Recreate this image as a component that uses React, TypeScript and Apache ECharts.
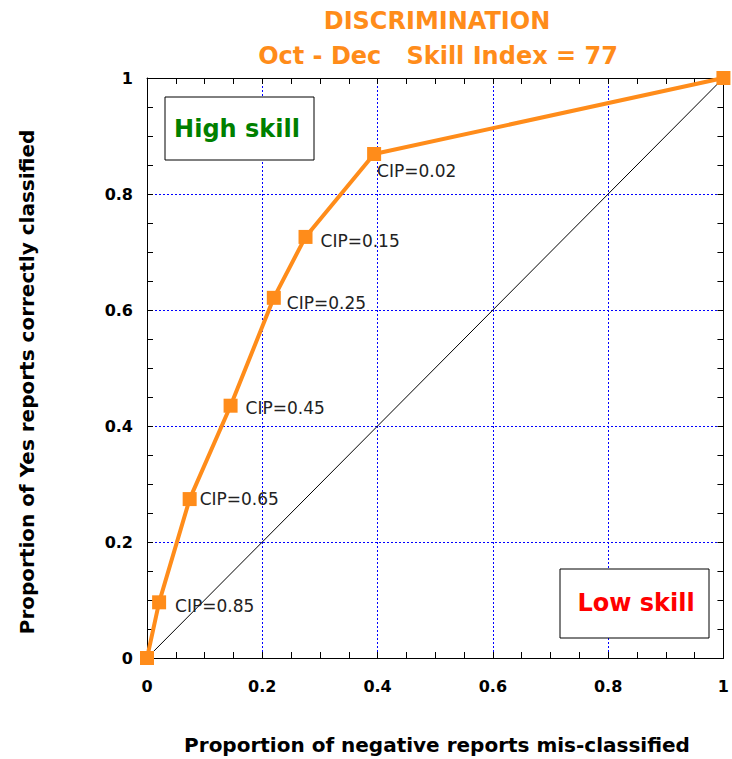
import React, { useEffect, useRef } from "react";
import * as echarts from "echarts";

// Data
const falseAlarmRate = [0, 0.021, 0.074, 0.145, 0.22, 0.275, 0.394, 1];
const hitRate = [0, 0.096, 0.274, 0.435, 0.621, 0.726, 0.869, 1];
const cipLabels = ["", "CIP=0.85", "CIP=0.65", "CIP=0.45", "CIP=0.25", "CIP=0.15", "CIP=0.02", ""];
const labelOffsets: [number, number][] = [[0, 0], [4, 4], [-2, 0], [3, 2], [1, 5], [3, 4], [-9, 17], [0, 0]];
const diagonalX = [0, 1];
const diagonalY = [0, 1];
const axisTicks = [0, 0.2, 0.4, 0.6, 0.8, 1];

const titleLine1 = "DISCRIMINATION";
const titleLine2 = "Oct - Dec   Skill Index = 77";
const xAxisTitle = "Proportion of negative reports mis-classified";
const yAxisTitle = "Proportion of Yes reports correctly classified";

const ORANGE = "#FF8C1A";
const FONT = "'DejaVu Sans', Verdana, sans-serif";

export default function App() {
  const ref = useRef<HTMLDivElement>(null);

  useEffect(() => {
    document.body.style.margin = "0";
    document.body.style.overflow = "hidden";
    if (!ref.current) return;
    const chart = echarts.init(ref.current, null, { renderer: "svg" });

    const baseAxis = {
      type: "value" as const,
      min: axisTicks[0],
      max: axisTicks[axisTicks.length - 1],
      interval: 0.2,
      axisLine: { show: true, onZero: false, lineStyle: { color: "#000", width: 1 } },
      axisTick: { show: true, inside: true, length: 6, lineStyle: { color: "#000" } },
      minorTick: { show: true, splitNumber: 4, length: 6, lineStyle: { color: "#000" } },
    };

    const gridLineStyle = { color: "#0000FF", type: [2, 2], width: 1, opacity: 1 };

    const mainData = falseAlarmRate.map((x, i) => ({
      value: [x, hitRate[i]],
      label: {
        show: cipLabels[i] !== "",
        formatter: cipLabels[i],
        offset: labelOffsets[i],
      },
    }));

    chart.setOption({
      animation: false,
      backgroundColor: "#fff",
      grid: { left: 147, top: 78, right: 5, bottom: 101 },
      xAxis: [
        {
          ...baseAxis,
          position: "bottom",
          axisLabel: { show: true, margin: 20, color: "#000", fontFamily: FONT, fontWeight: "bold", fontSize: 16 },
          splitLine: { show: true, lineStyle: gridLineStyle },
        },
        {
          ...baseAxis,
          position: "top",
          axisLabel: { show: false },
          splitLine: { show: false },
        },
      ],
      yAxis: [
        {
          ...baseAxis,
          position: "left",
          axisLabel: { show: true, margin: 14, color: "#000", fontFamily: FONT, fontWeight: "bold", fontSize: 16 },
          splitLine: { show: true, lineStyle: gridLineStyle },
        },
        {
          ...baseAxis,
          position: "right",
          axisLabel: { show: false },
          splitLine: { show: false },
        },
      ],
      series: [
        {
          type: "line",
          xAxisIndex: 0,
          yAxisIndex: 0,
          data: diagonalX.map((x, i) => [x, diagonalY[i]]),
          symbol: "none",
          lineStyle: { color: "#000", width: 1 },
          silent: true,
          z: 2,
        },
        {
          type: "line",
          xAxisIndex: 0,
          yAxisIndex: 0,
          data: mainData,
          symbol: "rect",
          symbolSize: 14,
          itemStyle: { color: ORANGE },
          lineStyle: { color: ORANGE, width: 4 },
          label: {
            position: "right",
            distance: 5,
            color: "#222",
            fontFamily: FONT,
            fontSize: 17,
          },
          z: 3,
        },
      ],
      graphic: [
        {
          type: "text",
          x: 437,
          y: 21,
          style: {
            text: titleLine1,
            fill: ORANGE,
            font: `bold 24px ${FONT}`,
            textAlign: "center",
            textVerticalAlign: "middle",
          },
        },
        {
          type: "text",
          x: 438,
          y: 56,
          style: {
            text: titleLine2,
            fill: ORANGE,
            font: `bold 24px ${FONT}`,
            textAlign: "center",
            textVerticalAlign: "middle",
          },
        },
        {
          type: "text",
          x: 437,
          y: 745,
          style: {
            text: xAxisTitle,
            fill: "#000",
            font: `bold 20px ${FONT}`,
            textAlign: "center",
            textVerticalAlign: "middle",
          },
        },
        {
          type: "text",
          x: 27,
          y: 382,
          rotation: Math.PI / 2,
          style: {
            text: yAxisTitle,
            fill: "#000",
            font: `bold 20px ${FONT}`,
            textAlign: "center",
            textVerticalAlign: "middle",
          },
        },
        {
          type: "rect",
          shape: { x: 165, y: 97, width: 149, height: 63 },
          style: { fill: "#fff", stroke: "#000", lineWidth: 1 },
          z: 10,
        },
        {
          type: "text",
          x: 237,
          y: 129,
          z: 11,
          style: {
            text: "High skill",
            fill: "#008000",
            font: `bold 24px ${FONT}`,
            textAlign: "center",
            textVerticalAlign: "middle",
          },
        },
        {
          type: "rect",
          shape: { x: 560, y: 569, width: 149, height: 69 },
          style: { fill: "#fff", stroke: "#000", lineWidth: 1 },
          z: 10,
        },
        {
          type: "text",
          x: 636,
          y: 603,
          z: 11,
          style: {
            text: "Low skill",
            fill: "#FF0000",
            font: `bold 24px ${FONT}`,
            textAlign: "center",
            textVerticalAlign: "middle",
          },
        },
      ],
    });

    return () => {
      chart.dispose();
    };
  }, []);

  return <div ref={ref} style={{ width: 732, height: 759 }} />;
}
